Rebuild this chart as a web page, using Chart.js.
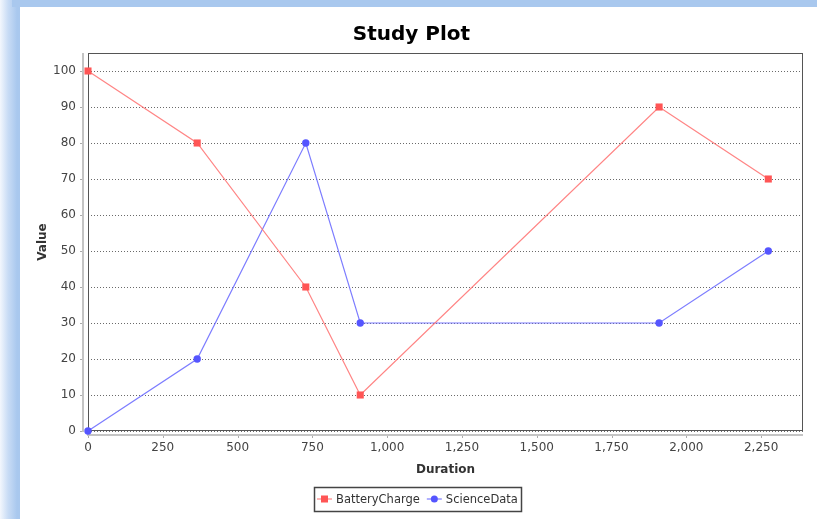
<!DOCTYPE html>
<html>
<head>
<meta charset="utf-8">
<script src="https://cdn.jsdelivr.net/npm/chart.js@4/dist/chart.umd.min.js"></script>
<style>
  html, body { margin:0; padding:0; width:817px; height:519px; overflow:hidden; background:#a9c8ee; }
  #leftstrip { position:absolute; left:0; top:0; width:20px; height:519px;
    background: linear-gradient(to right, #f3f7fd 0px, #c9dcf5 8px, #a9c8ee 17px, #a9c8ee 20px); }
  #topstrip { position:absolute; left:12px; top:0; width:805px; height:7px; background:#a9c8ee; }
  #panel { position:absolute; left:20px; top:7px; width:797px; height:512px; background:#fff; }
  canvas { display:block; }
</style>
</head>
<body>
<div id="leftstrip"></div>
<div id="topstrip"></div>
<div id="panel"><canvas id="c" width="797" height="512"></canvas></div>
<script>
// ---- data ----
const durations      = [0, 365, 728, 910, 1909, 2274];
const batteryCharge  = [100, 80, 40, 10, 90, 70];
const scienceData    = [0, 20, 80, 30, 30, 50];
const seriesNames    = ['BatteryCharge', 'ScienceData'];
const xTickStep = 250;
const yTickStep = 10;

const FONT = "'DejaVu Sans', Verdana, sans-serif";
const RED_PT = '#ff5555', RED_LN = 'rgba(255,110,110,0.85)';
const BLUE_PT = '#5555ff', BLUE_LN = 'rgba(110,110,255,0.9)';

const toXY = (xs, ys) => xs.map((x, i) => ({x: x, y: ys[i]}));

const framePlugin = {
  id: 'frame',
  beforeDatasetsDraw(chart) {
    const {ctx, chartArea: a, scales} = chart;
    ctx.save();
    ctx.strokeStyle = '#555';
    ctx.lineWidth = 1;
    ctx.strokeRect(Math.round(a.left) + 0.5, Math.round(a.top) + 0.5,
                   Math.round(a.right - a.left) - 1, Math.round(a.bottom - a.top) - 1);
    ctx.strokeStyle = '#c4c4c4';
    ctx.lineWidth = 2;
    ctx.beginPath();
    ctx.moveTo(a.left - 5, a.top);
    ctx.lineTo(a.left - 5, a.bottom + 1);
    ctx.moveTo(a.left - 1, a.bottom + 4);
    ctx.lineTo(a.right, a.bottom + 4);
    ctx.stroke();
    ctx.lineWidth = 1;
    ctx.strokeStyle = '#aaa';
    ctx.beginPath();
    scales.x.ticks.forEach(t => {
      const px = Math.round(scales.x.getPixelForValue(t.value)) + 0.5;
      ctx.moveTo(px, a.bottom + 5);
      ctx.lineTo(px, a.bottom + 7);
    });
    scales.y.ticks.forEach(t => {
      const py = Math.round(scales.y.getPixelForValue(t.value)) + 0.5;
      ctx.moveTo(a.left - 6, py);
      ctx.lineTo(a.left - 8, py);
    });
    ctx.stroke();
    ctx.restore();
  },
  afterDraw(chart) {
    const {ctx} = chart;
    ctx.save();
    ctx.font = '11.5px ' + FONT;
    const w0 = ctx.measureText(seriesNames[0]).width;
    const w1 = ctx.measureText(seriesNames[1]).width;
    const mark = 15, gapT = 4, gapI = 7, padL = 3, padR = 3;
    const total = padL + mark + gapT + w0 + gapI + mark + gapT + w1 + padR;
    const cx = chart.width / 2 - 1;
    const x0 = Math.round(cx - total / 2);
    const yTop = 480, h = 24, yc = yTop + h / 2;
    ctx.strokeStyle = '#444';
    ctx.lineWidth = 1.5;
    ctx.strokeRect(x0 + 0.5, yTop + 0.5, Math.round(total), h);
    let x = x0 + padL;
    ctx.strokeStyle = RED_LN; ctx.lineWidth = 1.2;
    ctx.beginPath(); ctx.moveTo(x, yc); ctx.lineTo(x + mark, yc); ctx.stroke();
    ctx.fillStyle = RED_PT;
    ctx.fillRect(x + mark / 2 - 3.5, yc - 3.5, 7, 7);
    x += mark + gapT;
    ctx.fillStyle = '#333';
    ctx.textBaseline = 'middle';
    ctx.fillText(seriesNames[0], x, yc + 1);
    x += w0 + gapI;
    ctx.strokeStyle = BLUE_LN;
    ctx.beginPath(); ctx.moveTo(x, yc); ctx.lineTo(x + mark, yc); ctx.stroke();
    ctx.fillStyle = BLUE_PT;
    ctx.beginPath(); ctx.arc(x + mark / 2, yc, 3.5, 0, Math.PI * 2); ctx.fill();
    x += mark + gapT;
    ctx.fillStyle = '#333';
    ctx.fillText(seriesNames[1], x, yc + 1);
    ctx.restore();
  }
};

new Chart(document.getElementById('c'), {
  type: 'line',
  data: {
    datasets: [
      { label: seriesNames[0], data: toXY(durations, batteryCharge),
        borderColor: RED_LN, backgroundColor: RED_PT, pointBackgroundColor: RED_PT,
        pointBorderColor: RED_PT, borderWidth: 1.2, pointStyle: 'rect', pointRadius: 5,
        pointBorderWidth: 0, tension: 0, clip: false },
      { label: seriesNames[1], data: toXY(durations, scienceData),
        borderColor: BLUE_LN, backgroundColor: BLUE_PT, pointBackgroundColor: BLUE_PT,
        pointBorderColor: BLUE_PT, borderWidth: 1.2, pointStyle: 'circle', pointRadius: 3.7,
        pointBorderWidth: 0, tension: 0, clip: false }
    ]
  },
  options: {
    responsive: false,
    animation: false,
    events: [],
    layout: { padding: { left: 0, right: 14, top: 0, bottom: 0 } },
    plugins: {
      legend: { display: false },
      tooltip: { enabled: false },
      title: { display: true, text: 'Study Plot', color: '#000',
               font: { family: FONT, size: 20, weight: 'bold' },
               padding: { top: 15.5, bottom: 6.5 } }
    },
    scales: {
      x: {
        type: 'linear', min: 0, max: 2390,
        afterFit(s) { s.height = 88; },
        border: { display: false },
        grid: { display: false, drawTicks: false },
        ticks: { stepSize: xTickStep, includeBounds: false, autoSkip: false,
                 padding: 10, color: '#444', maxRotation: 0,
                 font: { family: FONT, size: 12 },
                 callback: v => Number(v).toLocaleString('en-US') },
        title: { display: true, text: 'Duration', color: '#333',
                 font: { family: FONT, size: 12, weight: 'bold' },
                 padding: { top: 0, bottom: 41.8 } }
      },
      y: {
        type: 'linear', min: 0, max: 105,
        afterFit(s) { s.width = 68; },
        border: { display: false, dash: [1, 2] },
        grid: { drawTicks: false, color: '#6a6a6a', lineWidth: 1, drawOnChartArea: true },
        ticks: { stepSize: yTickStep, includeBounds: false, autoSkip: false,
                 padding: 12, color: '#444',
                 font: { family: FONT, size: 12 } },
        title: { display: true, text: 'Value', color: '#333',
                 font: { family: FONT, size: 12, weight: 'bold' },
                 padding: { top: 15.3, bottom: 0 } }
      }
    }
  },
  plugins: [framePlugin]
});
</script>
</body>
</html>
